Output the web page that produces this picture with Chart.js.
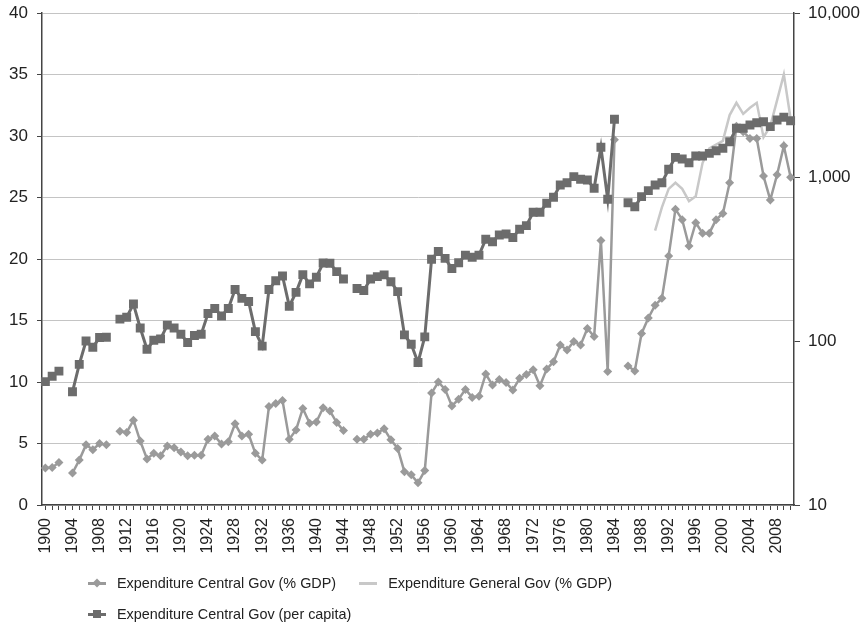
<!DOCTYPE html>
<html>
<head>
<meta charset="utf-8">
<script src="https://cdn.jsdelivr.net/npm/chart.js@4.4.0/dist/chart.umd.min.js"></script>
<style>
  html, body { margin: 0; padding: 0; background: #fff; }
  #wrap { position: relative; width: 866px; height: 622px; }
  #legend { position: absolute; left: 88px; top: 567px; width: 600px; display: flex; flex-wrap: wrap;
            font: 14.4px 'Liberation Sans', Arial, sans-serif; color: #222; }
  .item { display: flex; align-items: center; height: 31px; margin-right: 23px; }
  .key { position: relative; width: 18px; height: 12px; margin-right: 11px; }
  .key .ln { position: absolute; left: 0; top: 5px; width: 18px; height: 3px; }
  .key .mk { position: absolute; left: 5px; top: 2.5px; width: 8px; height: 8px; }
</style>
</head>
<body>
<div id="wrap">
  <canvas id="chart" width="866" height="622"></canvas>
  <div id="legend"></div>
</div>
<script>
// categories: one per year, 1900-2010
const years = Array.from({ length: 111 }, (_, i) => 1900 + i);

// Expenditure Central Gov (% GDP), left axis
const centralGdp = [
  3.0, 3.05, 3.45, null, 2.6, 3.65, 4.9, 4.5, 5.0, 4.9,
  null, 6.0, 5.9, 6.9, 5.2, 3.75, 4.2, 4.0, 4.8, 4.65,
  4.3, 4.0, 4.05, 4.05, 5.35, 5.6, 4.95, 5.15, 6.6, 5.6,
  5.75, 4.2, 3.65, 8.0, 8.25, 8.5, 5.35, 6.1, 7.85, 6.65,
  6.75, 7.9, 7.65, 6.7, 6.05, null, 5.35, 5.35, 5.75, 5.85,
  6.2, 5.3, 4.6, 2.7, 2.45, 1.8, 2.8, 9.1, 10.0, 9.4,
  8.05, 8.6, 9.4, 8.75, 8.85, 10.65, 9.75, 10.2, 9.95, 9.35,
  10.3, 10.6, 11.0, 9.7, 11.05, 11.65, 13.0, 12.6, 13.3, 13.0,
  14.35, 13.7, 21.5, 10.85, 29.7, null, 11.3, 10.9, 13.95, 15.2,
  16.25, 16.8, 20.25, 24.05, 23.2, 21.05, 22.95, 22.1, 22.1, 23.2,
  23.7, 26.2, 30.8, 30.35, 29.8, 29.8, 26.75, 24.8, 26.85, 29.2, 26.65
];

// Expenditure General Gov (% GDP), left axis, 1990-2010 only
const generalStart = 1990;
const generalGdp = [
  22.3, 24.2, 25.7, 26.2, 25.7, 24.7, 25.1, 27.8, 29.0, 29.3,
  29.6, 31.7, 32.7, 31.8, 32.3, 32.7, 29.9, 30.8, 32.9, 35.0, 31.4
];

// Expenditure Central Gov (per capita), right log axis
const centralPerCapita = [
  56.5, 61, 65.5, null, 49, 72, 100, 91.5, 105, 105.5,
  null, 136, 139.5, 168, 120, 89, 101, 103, 125, 120,
  110, 98, 108, 110, 147, 158, 142, 158, 206, 182,
  174, 114, 93, 206, 233, 249, 163, 198, 254, 223,
  245, 299, 298, 265, 239, null, 209, 203, 239, 247,
  253, 230, 200, 109, 95.5, 74, 106, 315, 351, 319,
  277, 300, 334, 324, 334, 417, 403, 443, 449, 428,
  480, 505, 609, 609, 691, 752, 894, 923, 1005, 968,
  959, 853, 1517, 731, 2248, null, 697, 659, 759, 826,
  894, 923, 1114, 1318, 1288, 1222, 1343, 1343, 1393, 1446,
  1496, 1642, 1982, 1982, 2075, 2143, 2174, 2028, 2228, 2313, 2203
];

const rightTicks = [10, 100, 1000, 10000];

Chart.defaults.font.family = "'Liberation Sans', Arial, sans-serif";
Chart.defaults.font.size = 17;
Chart.defaults.color = '#222';

const axisColor = '#444';

const datasets = [
  {
    label: 'Expenditure Central Gov (% GDP)',
    data: centralGdp,
    yAxisID: 'y',
    borderColor: '#9a9a9a',
    backgroundColor: '#9a9a9a',
    borderWidth: 2.5,
    pointStyle: 'rectRot',
    pointRadius: 4.5,
    pointBorderWidth: 0,
    order: 2,
    marker: 'diamond'
  },
  {
    label: 'Expenditure General Gov (% GDP)',
    data: generalGdp.map((v, i) => ({ x: String(generalStart + i), y: v })),
    yAxisID: 'y',
    borderColor: '#c8c8c8',
    backgroundColor: '#c8c8c8',
    borderWidth: 2.5,
    pointRadius: 0,
    order: 3,
    marker: 'none'
  },
  {
    label: 'Expenditure Central Gov (per capita)',
    data: centralPerCapita,
    yAxisID: 'y1',
    borderColor: '#6c6c6c',
    backgroundColor: '#6c6c6c',
    borderWidth: 3,
    pointStyle: 'rect',
    pointRadius: 6.3,
    pointBorderWidth: 0,
    order: 1,
    marker: 'square'
  }
];

const chart = new Chart(document.getElementById('chart'), {
  type: 'line',
  data: { labels: years.map(String), datasets: datasets },
  options: {
    responsive: false,
    animation: false,
    layout: { padding: { top: 13, bottom: 62, left: 0, right: 0 } },
    plugins: { legend: { display: false }, tooltip: { enabled: false } },
    scales: {
      x: {
        offset: true,
        grid: { drawOnChartArea: false, tickLength: 5, color: axisColor },
        border: { color: axisColor, width: 1.5 },
        ticks: {
          autoSkip: false, minRotation: 90, maxRotation: 90, padding: 8,
          font: { size: 16 },
          callback: (v, i) => (years[i] % 4 === 0 ? String(years[i]) : '')
        },
        afterFit: (s) => { s.height = 55; }
      },
      y: {
        position: 'left',
        min: 0, max: 40,
        ticks: { stepSize: 5, padding: 9 },
        grid: { color: '#c4c4c4', tickLength: 5, tickColor: axisColor },
        border: { color: axisColor, width: 1.5 },
        afterFit: (s) => { s.width = 42; s.paddingTop = 0; s.paddingBottom = 0; }
      },
      y1: {
        type: 'logarithmic',
        position: 'right',
        min: 10, max: 10000,
        ticks: { padding: 8, callback: (v) => Number(v).toLocaleString('en-US') },
        grid: { drawOnChartArea: false, tickLength: 6, color: axisColor },
        border: { color: axisColor, width: 1.5 },
        afterBuildTicks: (s) => { s.ticks = rightTicks.map((v) => ({ value: v })); },
        afterFit: (s) => { s.width = 72; s.paddingTop = 0; s.paddingBottom = 0; }
      }
    }
  }
});

// legend below the plot, two items per row, left aligned
const legend = document.getElementById('legend');
chart.data.datasets.forEach((ds) => {
  const item = document.createElement('div');
  item.className = 'item';
  const key = document.createElement('span');
  key.className = 'key';
  const ln = document.createElement('span');
  ln.className = 'ln';
  ln.style.background = ds.borderColor;
  key.appendChild(ln);
  if (ds.marker !== 'none') {
    const mk = document.createElement('span');
    mk.className = 'mk';
    mk.style.background = ds.borderColor;
    if (ds.marker === 'diamond') {
      mk.style.transform = 'rotate(45deg) scale(0.8)';
    }
    key.appendChild(mk);
  }
  const txt = document.createElement('span');
  txt.textContent = ds.label;
  item.appendChild(key);
  item.appendChild(txt);
  legend.appendChild(item);
});
</script>
</body>
</html>
